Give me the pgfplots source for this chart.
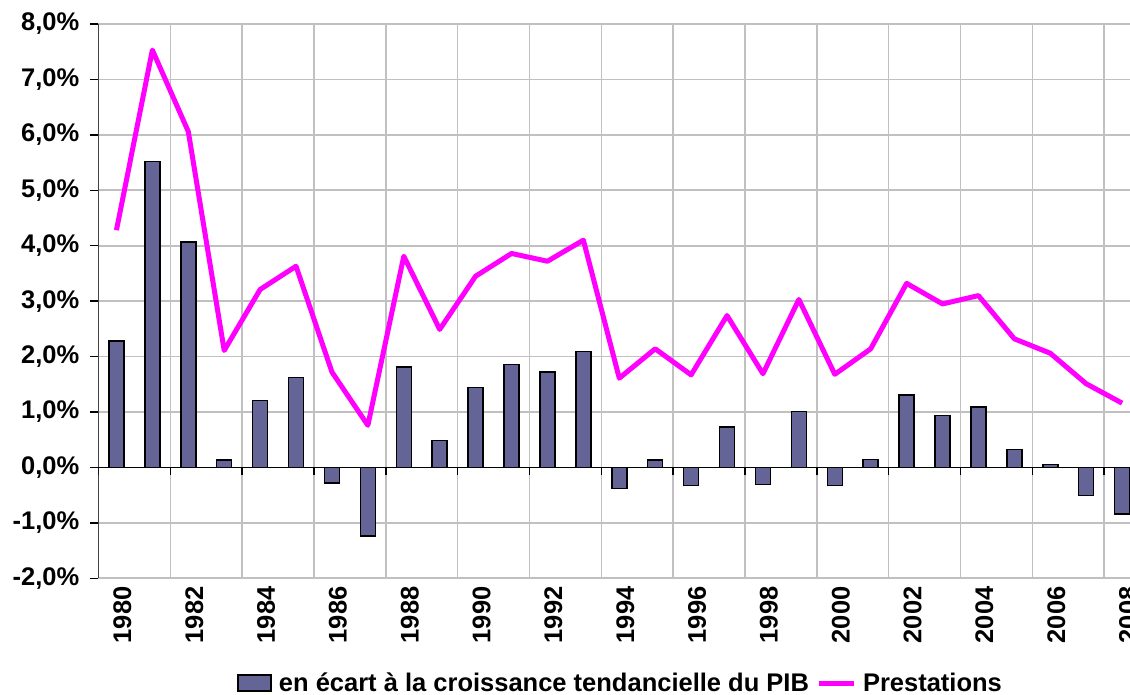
\documentclass[border=0pt]{standalone}
\usepackage{pgfplots}
\pgfplotsset{compat=1.18}
\usepackage{pgfplotstable}
\usepackage{fontspec}
\setmainfont{Liberation Sans}
\definecolor{barcol}{HTML}{646496}
\definecolor{gridcol}{HTML}{C0C0C0}
\definecolor{linecol}{HTML}{FF00FF}
\pgfplotstableread{
x bar line
0 2.28 4.28
1 5.52 7.53
2 4.07 6.06
3 0.13 2.11
4 1.21 3.21
5 1.62 3.63
6 -0.28 1.72
7 -1.24 0.76
8 1.81 3.81
9 0.49 2.49
10 1.44 3.45
11 1.86 3.86
12 1.72 3.72
13 2.09 4.10
14 -0.38 1.61
15 0.13 2.14
16 -0.33 1.67
17 0.73 2.74
18 -0.31 1.69
19 1.01 3.03
20 -0.33 1.68
21 0.14 2.14
22 1.31 3.32
23 0.94 2.95
24 1.09 3.10
25 0.32 2.32
26 0.05 2.06
27 -0.51 1.51
28 -0.84 1.16
}\datatable
\begin{document}
\begin{tikzpicture}
\path[use as bounding box] (-98.5pt,-116.7pt) rectangle (1031.5pt,578.3pt);
\begin{axis}[
  at={(0pt,0pt)}, anchor=south west,
  scale only axis,
  width=1031.5pt, height=554.3pt,
  xmin=-0.5, xmax=28.22,
  ymin=-2, ymax=8,
  ytick={-2,-1,0,1,2,3,4,5,6,7,8},
  yticklabels={{-2,0\%},{-1,0\%},{0,0\%},{1,0\%},{2,0\%},{3,0\%},{4,0\%},{5,0\%},{6,0\%},{7,0\%},{8,0\%}},
  xtick={0,2,...,28},
  xticklabels={1980,1982,1984,1986,1988,1990,1992,1994,1996,1998,2000,2002,2004,2006,2008},
  minor xtick={-0.5,1.5,...,27.5},
  xminorgrids=true, ymajorgrids=true,
  grid style={gridcol, line width=1.6pt},
  minor grid style={gridcol, line width=1.6pt},
  axis line style={draw=none},
  tick align=outside,
  major tick length=8pt,
  ytick pos=left,
  ytick style={black, line width=1.5pt},
  xtick style={draw=none},
  minor tick length=0pt,
  every tick label/.append style={font=\fontsize{25.5}{30}\selectfont\bfseries},
  yticklabel style={anchor=east, inner sep=0pt, xshift=-11pt},
  xticklabel style={rotate=90, anchor=east, inner sep=0pt, yshift=-6pt},
  legend style={at={(axis description cs:0.5067,-0.1889)}, anchor=center, draw=none,
    fill=none, font=\fontsize{25.5}{30}\selectfont\bfseries,
    legend columns=-1, inner sep=0pt,
    /tikz/every odd column/.append style={column sep=4pt},
    /tikz/every even column/.append style={column sep=4pt},
    nodes={inner sep=3pt}},
  clip=true,
]
\addplot[ybar, bar width=15pt, bar shift=0pt, fill=barcol, draw=black, line width=1.5pt,
  legend image code/.code={\draw[fill=barcol, draw=black, line width=1.5pt] (0pt,-8pt) rectangle (33pt,8pt);}]
  table[x=x, y=bar] {\datatable};
\addlegendentry{en écart à la croissance tendancielle du PIB}
\draw[black, line width=1.5pt] (axis cs:-0.5,0) -- (axis cs:28.5,0);
\draw[black, line width=1.5pt] (axis cs:-0.5,-2) -- (axis cs:-0.5,8);
\pgfplotsinvokeforeach{-0.5,1.5,3.5,5.5,7.5,9.5,11.5,13.5,15.5,17.5,19.5,21.5,23.5,25.5,27.5}{
  \draw[black, line width=1.5pt] (axis cs:#1,0) -- ++(0pt,-8pt);
}
\addplot[color=linecol, line width=5pt, line join=round, sharp plot, mark=none,
  legend image code/.code={\draw[linecol, line width=5pt] (0pt,0pt) -- (35pt,0pt);}]
  table[x=x, y=line] {\datatable};
\addlegendentry{Prestations}
\end{axis}
\end{tikzpicture}
\end{document}
